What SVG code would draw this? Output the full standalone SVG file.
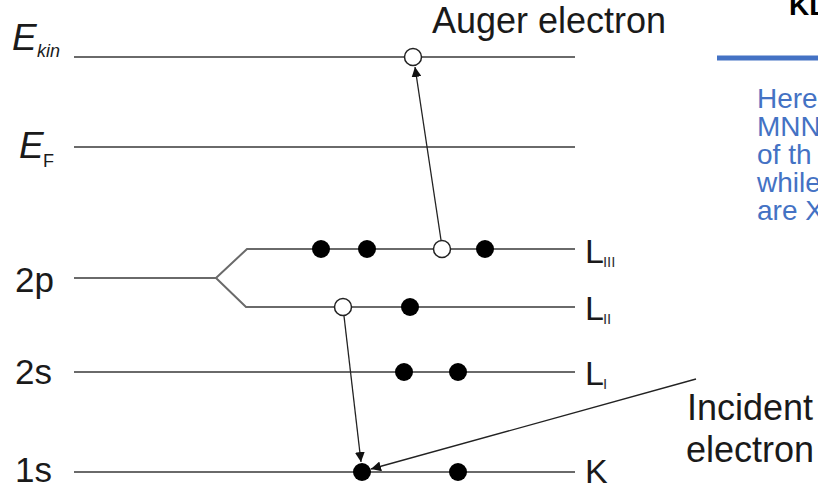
<svg xmlns="http://www.w3.org/2000/svg" width="818" height="489" viewBox="0 0 818 489">
  <defs>
    <marker id="arrow" viewBox="0 0 10 10" refX="10" refY="5" markerWidth="10" markerHeight="10" markerUnits="userSpaceOnUse" orient="auto">
      <path d="M0,0 L10,5 L0,10 Z" fill="#111"/>
    </marker>
    <style>
      .lvl { stroke: #6a6a6a; stroke-width: 2; fill: none; }
      .lbl { font-family: "Liberation Sans", Arial, sans-serif; font-size: 35px; fill: #1a1a1a; }
      .big { font-family: "Liberation Sans", Arial, sans-serif; font-size: 37px; font-style: italic; fill: #1a1a1a; }
      .small { font-family: "Liberation Sans", Arial, sans-serif; font-size: 18px; fill: #1a1a1a; }
      .shell { font-family: "Liberation Sans", Arial, sans-serif; font-size: 34px; fill: #1a1a1a; }
      .sub { font-size: 15px; fill: #333; }
      .full { fill: #000; }
      .hole { fill: #fff; stroke: #222; stroke-width: 1.5; }
      .conn { stroke: #222; stroke-width: 1.3; fill: none; marker-end: url(#arrow); }
      .blue { font-family: "Liberation Sans", Arial, sans-serif; font-size: 28px; fill: #4472C4; }
    </style>
  </defs>

  <rect width="818" height="489" fill="#fff"/>

  <!-- energy levels -->
  <g id="level-ekin">
    <line class="lvl" x1="74" y1="57" x2="575" y2="57"/>
    <text class="big" x="12" y="50">E</text>
    <text class="small" x="37" y="57" font-style="italic">kin</text>
    <circle class="hole" cx="413" cy="57" r="8.5"/>
  </g>

  <g id="level-ef">
    <line class="lvl" x1="74" y1="147" x2="575" y2="147"/>
    <text class="big" x="19" y="158">E</text>
    <text class="small" x="43" y="167">F</text>
  </g>

  <g id="level-2p">
    <path class="lvl" d="M74,278 H216 L247,249 H575 M216,278 L246,307 H575"/>
    <text class="lbl" x="15" y="292">2p</text>
    <circle class="full" cx="321" cy="249" r="9"/>
    <circle class="full" cx="367" cy="249" r="9"/>
    <circle class="hole" cx="442" cy="249" r="8.5"/>
    <circle class="full" cx="485" cy="249" r="9"/>
    <circle class="hole" cx="343" cy="307" r="8.5"/>
    <circle class="full" cx="410" cy="307" r="9"/>
    <text class="shell" x="585" y="263">L<tspan class="sub" dx="-1" dy="4">III</tspan></text>
    <text class="shell" x="585" y="320">L<tspan class="sub" dx="-1" dy="4">II</tspan></text>
  </g>

  <g id="level-2s">
    <line class="lvl" x1="74" y1="372" x2="575" y2="372"/>
    <text class="lbl" x="15" y="384">2s</text>
    <circle class="full" cx="404" cy="372" r="9"/>
    <circle class="full" cx="458" cy="372" r="9"/>
    <text class="shell" x="585" y="385">L<tspan class="sub" dx="-1" dy="4">I</tspan></text>
  </g>

  <g id="level-1s">
    <line class="lvl" x1="74" y1="472" x2="575" y2="472"/>
    <text class="lbl" x="15" y="482">1s</text>
    <circle class="full" cx="362" cy="472" r="9"/>
    <circle class="full" cx="458" cy="472" r="9"/>
    <text class="shell" x="585" y="483">K</text>
  </g>

  <g id="label-auger">
    <text class="lbl" x="432" y="33" font-size="36px" style="font-size:36px">Auger electron</text>
  </g>

  <g id="label-incident">
    <text class="lbl" x="687" y="420" style="font-size:36px">Incident</text>
    <text class="lbl" x="686" y="462" style="font-size:36px">electron</text>
  </g>

  <!-- transitions -->
  <g id="connectors">
    <line class="conn" x1="441" y1="240" x2="415" y2="67"/>
    <line class="conn" x1="344" y1="316" x2="361" y2="462"/>
    <line class="conn" x1="696" y1="379" x2="371" y2="469"/>
  </g>

  <!-- side text -->
  <g id="side-note">
    <text x="789" y="15" font-family="'Liberation Sans', Arial, sans-serif" font-weight="bold" font-size="28" fill="#000">KL</text>
    <line x1="717" y1="58" x2="818" y2="58" stroke="#4472C4" stroke-width="5"/>
    <text class="blue" x="757" y="108">Here</text>
    <text class="blue" x="757" y="136">MNN</text>
    <text class="blue" x="757" y="164">of th</text>
    <text class="blue" x="757" y="192">while</text>
    <text class="blue" x="757" y="220">are X</text>
  </g>
</svg>
